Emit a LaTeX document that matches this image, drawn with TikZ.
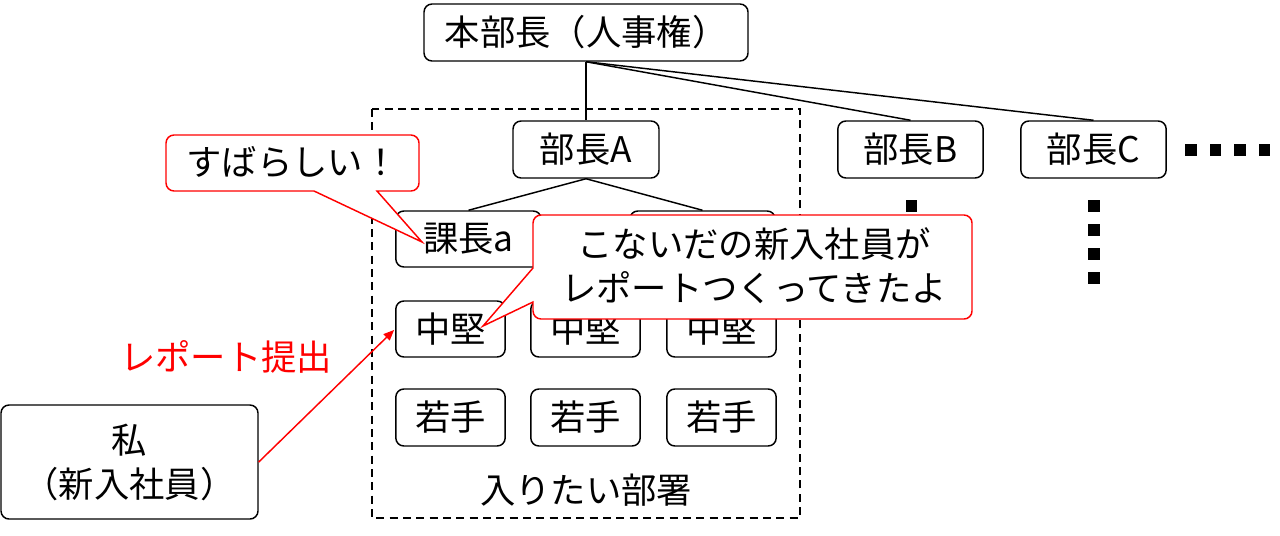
\documentclass[tikz,border=0pt]{standalone}
\usepackage{fontspec}
\setmainfont{Noto Sans CJK JP}
\usetikzlibrary{arrows.meta}
\definecolor{pptred}{RGB}{255,0,0}
\tikzset{
  box/.style={draw=black, fill=white, rounded corners=6pt, line width=1.1pt, inner sep=0pt, align=center, font=\fontsize{26.5}{33}\selectfont},
  conn/.style={draw=black, line width=1.1pt},
  sq/.style={fill=black},
  callout/.style={draw=pptred, fill=white, line width=1.1pt},
  ctext/.style={align=center, font=\fontsize{26.5}{33}\selectfont},
}
\begin{document}
\begin{tikzpicture}[x=0.75pt,y=-0.75pt]
\useasboundingbox (0,0) rectangle (1280,535);
% department frame
\draw[line width=1.1pt, dash pattern=on 6pt off 4pt] (372,109) rectangle (800,518);
% nodes
\node[box, minimum width=243pt, minimum height=42.75pt] (top) at (586,32.5) {本部長（人事権）};
\node[box, minimum width=109.5pt, minimum height=42.75pt] (A) at (586,149.5) {部長A};
\node[box, minimum width=109pt, minimum height=42.75pt] (B) at (910.5,149.5) {部長B};
\node[box, minimum width=109pt, minimum height=42.75pt] (C) at (1093.5,149.5) {部長C};
\node[box, minimum width=109pt, minimum height=42pt] (ka) at (468.5,239) {課長a};
\node[box, minimum width=109pt, minimum height=42pt] (kb) at (702.5,239) {};
\node[box, minimum width=82pt, minimum height=42pt] (c1) at (450.5,329) {中堅};
\node[box, minimum width=82pt, minimum height=42pt] (c2) at (585.5,329) {中堅};
\node[box, minimum width=82pt, minimum height=42pt] (c3) at (721.5,329) {中堅};
\node[box, minimum width=82pt, minimum height=42.75pt] (w1) at (450.5,417.5) {若手};
\node[box, minimum width=82pt, minimum height=42.75pt] (w2) at (585.5,417.5) {若手};
\node[box, minimum width=82pt, minimum height=42.75pt] (w3) at (721.5,417.5) {若手};
\node[ctext] (dept) at (586,490) {入りたい部署};
\node[box, minimum width=192.75pt, minimum height=85.5pt] (me) at (129.5,462) {私\\（新入社員）};
\node[ctext, text=pptred] (lbl) at (226,357) {レポート提出};
% connectors
\draw[conn] (top.south) -- (A.north);
\draw[conn] (top.south) -- (B.north);
\draw[conn] (top.south) -- (C.north);
\draw[conn] (A.south) -- (ka.north);
\draw[conn] (A.south) -- (kb.north);
% dots
\foreach \xx in {1185,1209.5,1234,1258.5} \fill[sq] (\xx,144) rectangle ++(11.5,11.5);
\foreach \yy in {200,224,248,272} \fill[sq] (1088,\yy) rectangle ++(11.5,11.5);
\foreach \yy in {200,224,248,272} \fill[sq] (905.5,\yy) rectangle ++(11.5,11.5);
% report arrow
\draw[draw=pptred, line width=1.1pt, -{Triangle[length=8pt,width=6.5pt]}, shorten >=1pt] (me.east) -- (c1.west);
% callout 1
\draw[callout] (314,191) -- (300,191) [rounded corners=6pt] -- (166,191) -- (166,135) -- (419,135) -- (419,191) -- (400,191) [sharp corners] -- (377,191) -- (422,242) -- cycle;
\node[ctext] (cb1) at (292.5,162) {すばらしい！};
% callout 2
\draw[callout] (533,302) -- (533,308) [rounded corners=6pt] -- (533,319) -- (972,319) -- (972,215) -- (533,215) -- (533,255) [sharp corners] -- (533,268) -- (483,326) -- cycle;
\node[ctext] (cb2) at (754,266) {こないだの新入社員が\\レポートつくってきたよ};
\end{tikzpicture}
\end{document}
